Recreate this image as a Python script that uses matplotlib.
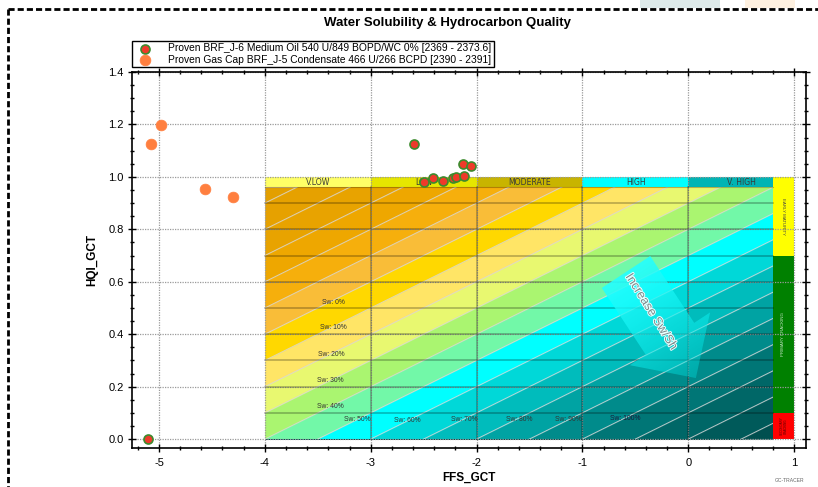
import numpy as np
import matplotlib
matplotlib.use('Agg')
import matplotlib.pyplot as plt
from matplotlib.patches import Rectangle, Polygon
from matplotlib.lines import Line2D
import matplotlib.patheffects as pe
from matplotlib.ticker import MultipleLocator, FormatStrFormatter

plt.rcParams['font.family'] = ['Liberation Sans', 'DejaVu Sans']
plt.rcParams['axes.unicode_minus'] = False

# ---------------- data ----------------
oil_label = "Proven BRF_J-6 Medium Oil 540 U/849 BOPD/WC 0% [2369 - 2373.6]"
oil_x = [-5.10, -2.59, -2.50, -2.41, -2.32, -2.22, -2.19, -2.12, -2.13, -2.055]
oil_y = [0.000, 1.126, 0.982, 0.997, 0.986, 0.997, 0.999, 1.003, 1.048, 1.043]

gas_label = "Proven Gas Cap BRF_J-5 Condensate 466 U/266 BCPD [2390 - 2391]"
gas_x = [-5.08, -4.98, -4.57, -4.30]
gas_y = [1.126, 1.197, 0.954, 0.925]

x_ticks = [-5, -4, -3, -2, -1, 0, 1]
y_ticks = [0.0, 0.2, 0.4, 0.6, 0.8, 1.0, 1.2, 1.4]

# background template
header_labels = ["V.LOW", "LOW", "MODERATE", "HIGH", "V. HIGH"]
header_edges = [-4, -3, -2, -1, 0, 0.8]
header_colors = ["#ffff66", "#e6e600", "#c8b400", "#00ffff", "#00b4b4"]
header_text_x = [-3.5, -2.5, -1.5, -0.49, 0.5]

band_colors = ["#e39f00", "#e6a100", "#e8a300", "#eea700", "#f6af0c",
               "#f9bd38", "#ffd800", "#ffe566", "#e8f870", "#aaf570",
               "#72f8a8", "#00ffff", "#00d8d8", "#00bcbc", "#00a3a3",
               "#008b8b", "#007676", "#006767", "#005a5a", "#004f4f"]
band_slope = 0.2

sw_labels = ["Sw: 0%", "Sw: 10%", "Sw: 20%", "Sw: 30%", "Sw: 40%", "Sw: 50%",
             "Sw: 60%", "Sw: 70%", "Sw: 80%", "Sw: 90%", "Sw: 100%"]
sw_x = [-3.35, -3.35, -3.37, -3.38, -3.38, -3.13, -2.65, -2.12, -1.60, -1.13, -0.595]
sw_y = [0.52, 0.425, 0.324, 0.223, 0.126, 0.073, 0.070, 0.075, 0.075, 0.075, 0.079]

maturity_labels = ["EARLY MATURITY", "PRIMARY CRACKING", "SECONDARY\nCRACKING"]
maturity_ranges = [(0.70, 1.00), (0.10, 0.70), (0.00, 0.10)]
maturity_colors = ["#ffff00", "#008000", "#ff0000"]
maturity_text_colors = ["#444444", "#c8e6c8", "#550000"]

# ---------------- figure ----------------
W, H = 818, 487
fig = plt.figure(figsize=(W / 100, H / 100), dpi=100)
ax = fig.add_axes([132 / W, 1 - 448 / H, (806 - 132) / W, (448 - 72) / H])
ax.set_xlim(-5.255, 1.113)
ax.set_ylim(-0.034, 1.4)

# colored diagonal bands
xs = np.linspace(-4, 0.8, 800)
for i, c in enumerate(band_colors):
    v_hi = 1.0 - 0.1 * i
    v_lo = v_hi - 0.1
    lo = np.clip(v_lo + band_slope * (xs + 4), 0, 0.96)
    hi = np.clip(v_hi + band_slope * (xs + 4), 0, 0.96)
    ax.fill_between(xs, lo, hi, facecolor=c, edgecolor=c, lw=0.4, zorder=1)

clip_rect = Rectangle((-4, 0), 4.8, 0.96, transform=ax.transData)
for k in range(1, 20):
    v = 1.0 - 0.1 * k
    ln, = ax.plot(xs, v + band_slope * (xs + 4), color="#d8d8d8", lw=0.7,
                  alpha=0.85, zorder=2)
    ln.set_clip_path(clip_rect)

# template grid lines
for yy in np.arange(0.1, 0.95, 0.1):
    ax.plot([-4, 0.8], [yy, yy], color="black", alpha=0.3, lw=1.1, zorder=2.2)
ax.plot([-4, 0.8], [0.96, 0.96], color="black", alpha=0.25, lw=0.8, zorder=2.2)
for xx in [-3, -2, -1, 0]:
    ax.plot([xx, xx], [0, 0.96], color="black", alpha=0.3, lw=1.1, zorder=2.2)

# header strip
for i, lab in enumerate(header_labels):
    ax.add_patch(Rectangle((header_edges[i], 0.96), header_edges[i + 1] - header_edges[i], 0.04,
                           facecolor=header_colors[i], edgecolor="none", zorder=1))
    ax.text(header_text_x[i], 0.98, lab, ha="center", va="center", fontsize=5.6,
            family="DejaVu Sans", color="#3a3a3a", zorder=3)

# maturity column
for lab, (y0, y1), c, tc in zip(maturity_labels, maturity_ranges, maturity_colors, maturity_text_colors):
    ax.add_patch(Rectangle((0.8, y0), 0.2, y1 - y0, facecolor=c, edgecolor="none", zorder=1))
    ax.text(0.9, (y0 + y1) / 2, lab, ha="center", va="center", rotation=270 if y0 > 0.5 else 90,
            fontsize=3.2 if y0 > 0 else 2.2, color=tc, zorder=3, linespacing=1.0)

# Sw labels
for lab, sx, sy in zip(sw_labels, sw_x, sw_y):
    ax.text(sx, sy, lab, ha="center", va="center", fontsize=4.9,
            color="#1a1a3a" if lab.endswith("100%") else "#333333", zorder=3)

# --------- arrow "Increase Sw/Sh" (pixel geometry -> data) ---------
def px2data(px, py):
    return ax.transData.inverted().transform((px, H - py))

S = np.array([626.0, 272.0])
d = np.array([0.55, 0.835]); d /= np.linalg.norm(d)
n = np.array([d[1], -d[0]])
shaft_len, head_len, sh_w, hd_w = 80, 47, 29, 48
base = S + d * shaft_len
tip = base + d * head_len
pts_px = [S - n * sh_w, S + n * sh_w, base + n * sh_w, base + n * hd_w, tip,
          base - n * hd_w, base - n * sh_w]
pts = np.array([px2data(*p) for p in pts_px])
poly = Polygon(pts, closed=True, transform=ax.transData, facecolor="none", edgecolor="none")
ax.add_patch(poly)
bx0, by0 = np.min(np.array(pts_px), axis=0) - 2
bx1, by1 = np.max(np.array(pts_px), axis=0) + 2
gx, gy = np.meshgrid(np.arange(bx0, bx1), np.arange(by0, by1))
t = ((gx - S[0]) * d[0] + (gy - S[1]) * d[1]) / (shaft_len + head_len)
t = np.clip(t, 0, 1)
img = np.zeros(gx.shape + (4,))
img[..., 0] = 0.15 * (1 - t)
img[..., 1] = 1.0 - 0.12 * t
img[..., 2] = 1.0 - 0.12 * t
img[..., 3] = 0.92 - 0.55 * t
(dx0, dy1) = px2data(bx0, by0)
(dx1, dy0) = px2data(bx1, by1)
im = ax.imshow(img, extent=[dx0, dx1, dy0, dy1], origin="upper", aspect="auto",
               zorder=2.5, interpolation="bilinear")
im.set_clip_path(poly)
ax.set_xlim(-5.255, 1.113)
ax.set_ylim(-0.034, 1.4)
tx, ty = px2data(651, 312)
ax.text(tx, ty, "Increase Sw/Sh", rotation=-58, rotation_mode="anchor", ha="center", va="center",
        fontsize=9, color="#7c8a8a", zorder=3,
        path_effects=[pe.withStroke(linewidth=1.4, foreground="#e8ffff")])

# ---------------- data points ----------------
h1 = ax.scatter(oil_x, oil_y, s=42, facecolor="#ee3a2a", edgecolor="#3d8b2e", linewidths=1.2,
                zorder=6, label=oil_label)
h2 = ax.scatter(gas_x, gas_y, s=60, facecolor="#ff7f3f", edgecolor="#ff7f3f", linewidths=0.5,
                zorder=6, label=gas_label)

# ---------------- axes styling ----------------
ax.set_xticks(x_ticks)
ax.set_yticks(y_ticks)
ax.xaxis.set_minor_locator(MultipleLocator(0.2))
ax.yaxis.set_minor_locator(MultipleLocator(0.05))
ax.yaxis.set_major_formatter(FormatStrFormatter("%.1f"))
ax.grid(True, which="major", color="#9a9a9a", linestyle=(0, (1, 1)), lw=0.9, zorder=1.5)
ax.tick_params(which="both", direction="inout", top=True, right=True, labelsize=8, width=1,
               colors="black")
ax.tick_params(which="major", length=6)
ax.tick_params(which="minor", length=3)
ax.tick_params(axis="x", pad=4)
ax.tick_params(axis="y", pad=3)
for sp in ax.spines.values():
    sp.set_linewidth(1.2)
    sp.set_zorder(7)

ax.set_xlabel("FFS_GCT", fontsize=8.5, weight="bold", labelpad=3)
ax.set_ylabel("HQI_GCT", fontsize=8.5, weight="bold", labelpad=7)

leg = ax.legend(handles=[h1, h2], loc="lower left", bbox_to_anchor=(0.0, 1.012), frameon=True,
                fancybox=False, edgecolor="black", fontsize=7.4, borderpad=0.25,
                labelspacing=0.15, handletextpad=1.3, borderaxespad=0, framealpha=1,
                markerscale=1.0)
leg.get_frame().set_linewidth(1.0)

fig.text(448 / W, 1 - 23 / H, "Water Solubility & Hydrocarbon Quality", ha="center", va="center",
         fontsize=9.5, weight="bold")
fig.text(790 / W, 1 - 481 / H, "GC-TRACER", ha="center", va="center", fontsize=3.6, color="#666666")

# faint remnants above the page frame
fig.add_artist(Rectangle((640 / W, 1 - 8 / H), 80 / W, 8 / H, transform=fig.transFigure,
                         facecolor="#c9dcdc", edgecolor="none", alpha=0.6))
fig.add_artist(Rectangle((745 / W, 1 - 8 / H), 50 / W, 8 / H, transform=fig.transFigure,
                         facecolor="#fde6cc", edgecolor="none", alpha=0.6))

# dashed page frame
fig.add_artist(Line2D([8 / W, 1.0], [1 - 9 / H, 1 - 9 / H], transform=fig.transFigure,
                      color="black", lw=2, linestyle=(0, (2.2, 1.1))))
fig.add_artist(Line2D([8 / W, 8 / W], [1 - 9 / H, 0.0], transform=fig.transFigure,
                      color="black", lw=2, linestyle=(0, (2.2, 1.1))))

fig.savefig("out.png", dpi=100)
